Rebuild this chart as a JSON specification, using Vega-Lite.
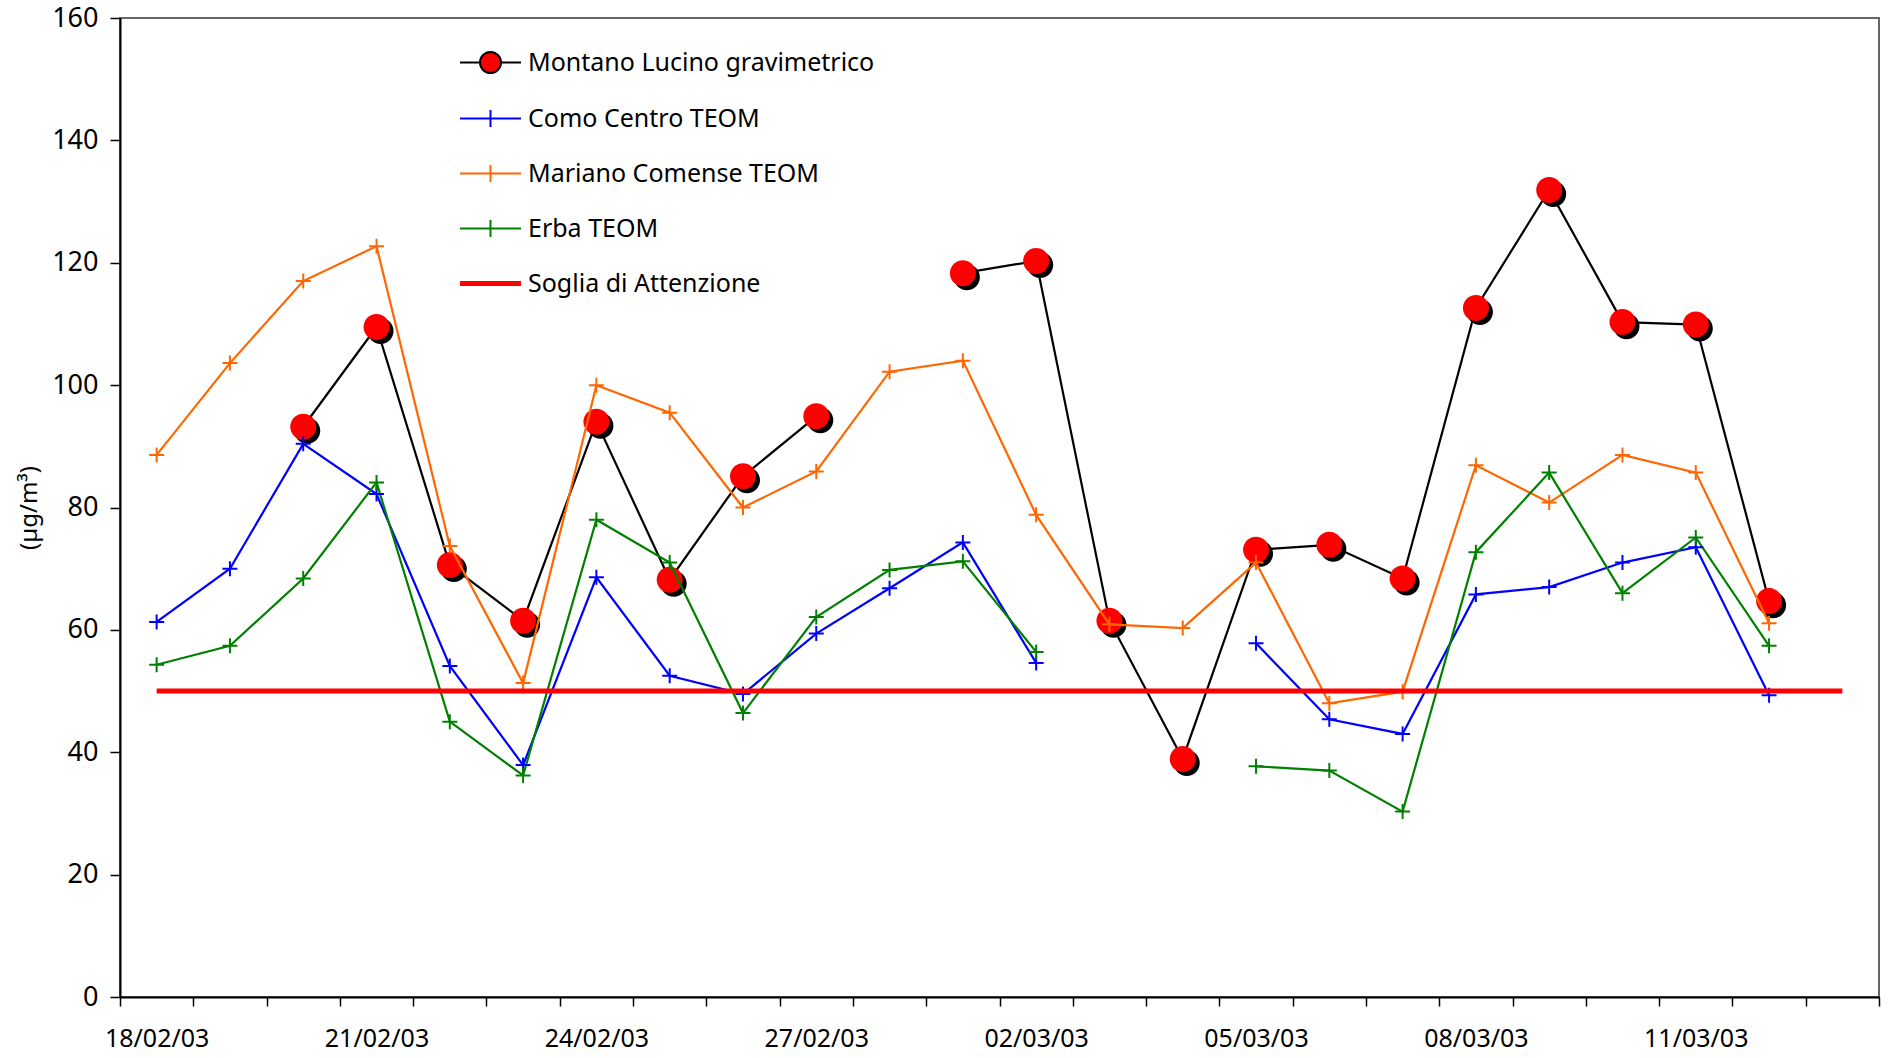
{
  "$schema": "https://vega.github.io/schema/vega-lite/v6.json",
  "width": 1759,
  "height": 979,
  "autosize": {"type": "none"},
  "padding": {"left": 120, "top": 18, "right": 10, "bottom": 61},
  "background": "white",
  "config": {
    "view": {"stroke": "#666666", "strokeWidth": 2},
    "font": "Noto Sans"
  },
  "data": {
    "values": [
      {"date": "18/02/03", "Montano Lucino gravimetrico": null, "Como Centro TEOM": 61.3, "Mariano Comense TEOM": 88.6, "Erba TEOM": 54.3, "Soglia di Attenzione": 50},
      {"date": "19/02/03", "Montano Lucino gravimetrico": null, "Como Centro TEOM": 70.0, "Mariano Comense TEOM": 103.6, "Erba TEOM": 57.4, "Soglia di Attenzione": 50},
      {"date": "20/02/03", "Montano Lucino gravimetrico": 93.2, "Como Centro TEOM": 90.4, "Mariano Comense TEOM": 117.0, "Erba TEOM": 68.4, "Soglia di Attenzione": 50},
      {"date": "21/02/03", "Montano Lucino gravimetrico": 109.5, "Como Centro TEOM": 82.2, "Mariano Comense TEOM": 122.7, "Erba TEOM": 84.1, "Soglia di Attenzione": 50},
      {"date": "22/02/03", "Montano Lucino gravimetrico": 70.6, "Como Centro TEOM": 54.1, "Mariano Comense TEOM": 73.7, "Erba TEOM": 45.0, "Soglia di Attenzione": 50},
      {"date": "23/02/03", "Montano Lucino gravimetrico": 61.5, "Como Centro TEOM": 37.9, "Mariano Comense TEOM": 51.3, "Erba TEOM": 36.2, "Soglia di Attenzione": 50},
      {"date": "24/02/03", "Montano Lucino gravimetrico": 94.0, "Como Centro TEOM": 68.6, "Mariano Comense TEOM": 100.0, "Erba TEOM": 78.0, "Soglia di Attenzione": 50},
      {"date": "25/02/03", "Montano Lucino gravimetrico": 68.2, "Como Centro TEOM": 52.5, "Mariano Comense TEOM": 95.5, "Erba TEOM": 71.0, "Soglia di Attenzione": 50},
      {"date": "26/02/03", "Montano Lucino gravimetrico": 85.1, "Como Centro TEOM": 49.5, "Mariano Comense TEOM": 80.0, "Erba TEOM": 46.4, "Soglia di Attenzione": 50},
      {"date": "27/02/03", "Montano Lucino gravimetrico": 94.9, "Como Centro TEOM": 59.4, "Mariano Comense TEOM": 85.9, "Erba TEOM": 62.1, "Soglia di Attenzione": 50},
      {"date": "28/02/03", "Montano Lucino gravimetrico": null, "Como Centro TEOM": 66.8, "Mariano Comense TEOM": 102.2, "Erba TEOM": 69.8, "Soglia di Attenzione": 50},
      {"date": "01/03/03", "Montano Lucino gravimetrico": 118.3, "Como Centro TEOM": 74.3, "Mariano Comense TEOM": 104.0, "Erba TEOM": 71.2, "Soglia di Attenzione": 50},
      {"date": "02/03/03", "Montano Lucino gravimetrico": 120.3, "Como Centro TEOM": 54.6, "Mariano Comense TEOM": 78.8, "Erba TEOM": 56.4, "Soglia di Attenzione": 50},
      {"date": "03/03/03", "Montano Lucino gravimetrico": 61.5, "Como Centro TEOM": null, "Mariano Comense TEOM": 60.9, "Erba TEOM": null, "Soglia di Attenzione": 50},
      {"date": "04/03/03", "Montano Lucino gravimetrico": 38.9, "Como Centro TEOM": null, "Mariano Comense TEOM": 60.3, "Erba TEOM": null, "Soglia di Attenzione": 50},
      {"date": "05/03/03", "Montano Lucino gravimetrico": 73.1, "Como Centro TEOM": 57.8, "Mariano Comense TEOM": 71.0, "Erba TEOM": 37.7, "Soglia di Attenzione": 50},
      {"date": "06/03/03", "Montano Lucino gravimetrico": 73.9, "Como Centro TEOM": 45.4, "Mariano Comense TEOM": 48.0, "Erba TEOM": 37.0, "Soglia di Attenzione": 50},
      {"date": "07/03/03", "Montano Lucino gravimetrico": 68.4, "Como Centro TEOM": 43.0, "Mariano Comense TEOM": 49.9, "Erba TEOM": 30.3, "Soglia di Attenzione": 50},
      {"date": "08/03/03", "Montano Lucino gravimetrico": 112.6, "Como Centro TEOM": 65.8, "Mariano Comense TEOM": 86.9, "Erba TEOM": 72.7, "Soglia di Attenzione": 50},
      {"date": "09/03/03", "Montano Lucino gravimetrico": 131.9, "Como Centro TEOM": 67.0, "Mariano Comense TEOM": 80.8, "Erba TEOM": 85.7, "Soglia di Attenzione": 50},
      {"date": "10/03/03", "Montano Lucino gravimetrico": 110.3, "Como Centro TEOM": 71.0, "Mariano Comense TEOM": 88.6, "Erba TEOM": 66.0, "Soglia di Attenzione": 50},
      {"date": "11/03/03", "Montano Lucino gravimetrico": 109.9, "Como Centro TEOM": 73.5, "Mariano Comense TEOM": 85.7, "Erba TEOM": 75.1, "Soglia di Attenzione": 50},
      {"date": "12/03/03", "Montano Lucino gravimetrico": 64.7, "Como Centro TEOM": 49.3, "Mariano Comense TEOM": 61.1, "Erba TEOM": 57.4, "Soglia di Attenzione": 50},
      {"date": "13/03/03", "Montano Lucino gravimetrico": null, "Como Centro TEOM": null, "Mariano Comense TEOM": null, "Erba TEOM": null, "Soglia di Attenzione": 50}
    ]
  },
  "transform": [
    {"fold": ["Montano Lucino gravimetrico", "Como Centro TEOM", "Mariano Comense TEOM", "Erba TEOM", "Soglia di Attenzione"], "as": ["series", "value"]}
  ],
  "encoding": {
    "x": {
      "field": "date", "type": "ordinal", "sort": null, "bandPosition": 0.5,
      "scale": {"type": "band", "paddingInner": 0, "paddingOuter": 0},
      "axis": {
        "title": null, "labelAngle": 0, "tickBand": "extent", "tickSize": 9,
        "tickColor": "#000000", "tickWidth": 1.5, "domainColor": "#000000", "domainWidth": 2,
        "labelFont": "Noto Sans", "labelFontSize": 25, "labelColor": "#000000", "labelPadding": 20,
        "labelOverlap": false, "grid": false,
        "labelExpr": "indexof(['18/02/03','21/02/03','24/02/03','27/02/03','02/03/03','05/03/03','08/03/03','11/03/03'], datum.label) >= 0 ? datum.label : ''"
      }
    },
    "y": {
      "field": "value", "type": "quantitative",
      "scale": {"domain": [0, 160], "nice": false, "zero": true},
      "axis": {
        "title": "(µg/m³)", "titleFont": "Noto Sans", "titleFontSize": 24, "titleFontWeight": "normal",
        "titleColor": "#000000", "titlePadding": 10,
        "values": [0, 20, 40, 60, 80, 100, 120, 140, 160], "grid": false,
        "tickSize": 10, "tickColor": "#000000", "tickWidth": 1.5, "domainColor": "#000000", "domainWidth": 2,
        "labelFont": "Noto Sans", "labelFontSize": 27, "labelColor": "#000000", "labelPadding": 12
      }
    }
  },
  "layer": [
    {
      "transform": [{"filter": "datum.series == 'Montano Lucino gravimetrico'"}],
      "mark": {"type": "line", "strokeWidth": 2.2, "invalid": "break-paths-show-domains"},
      "encoding": {
        "stroke": {
          "field": "series", "type": "nominal",
          "scale": {
            "domain": ["Montano Lucino gravimetrico", "Como Centro TEOM", "Mariano Comense TEOM", "Erba TEOM", "Soglia di Attenzione"],
            "range": ["#000000", "#0000FF", "#FF6600", "#008000", "#FF0000"]
          },
          "legend": {
            "title": null, "orient": "none", "legendX": 358, "legendY": 32,
            "labelFont": "Noto Sans", "labelFontSize": 25, "labelColor": "#000000", "labelLimit": 1000,
            "symbolSize": 2500, "symbolStrokeWidth": 2, "labelOffset": 25, "rowPadding": 29, "padding": 0,
            "encode": {
              "symbols": {
                "update": {
                  "shape": {"signal": "datum.value == 'Montano Lucino gravimetrico' ? 'M -1.22 0 L -0.4 0 M 0.4 0 L 1.22 0 M 0.42 0 A 0.42 0.42 0 1 1 -0.42 0 A 0.42 0.42 0 1 1 0.42 0 Z' : (datum.value == 'Soglia di Attenzione' ? 'M -1.22 0 L 1.22 0' : 'M -1.22 0 L 1.22 0 M 0 -0.34 L 0 0.34')"},
                  "fill": {"signal": "datum.value == 'Montano Lucino gravimetrico' ? '#FF0000' : 'transparent'"},
                  "strokeWidth": {"signal": "datum.value == 'Soglia di Attenzione' ? 5 : 2"},
                  "opacity": {"value": 1}
                }
              }
            }
          }
        }
      }
    },
    {
      "transform": [{"filter": "datum.series == 'Montano Lucino gravimetrico' && datum.value != null"}],
      "mark": {"type": "point", "filled": true, "fill": "#000000", "strokeWidth": 0, "opacity": 1, "size": 676,
               "shape": "M 1.31 0.31 A 1 1 0 1 1 -0.69 0.31 A 1 1 0 1 1 1.31 0.31 Z"}
    },
    {
      "transform": [{"filter": "datum.series == 'Montano Lucino gravimetrico' && datum.value != null"}],
      "mark": {"type": "point", "filled": true, "fill": "#FF0000", "strokeWidth": 0, "opacity": 1, "size": 676,
               "shape": "M 1 0 A 1 1 0 1 1 -1 0 A 1 1 0 1 1 1 0 Z"}
    },
    {
      "transform": [{"filter": "datum.series != 'Montano Lucino gravimetrico' && datum.series != 'Soglia di Attenzione'"}],
      "mark": {"type": "line", "strokeWidth": 2.2, "invalid": "break-paths-show-domains"},
      "encoding": {"stroke": {"field": "series", "type": "nominal"}}
    },
    {
      "transform": [{"filter": "datum.series != 'Montano Lucino gravimetrico' && datum.series != 'Soglia di Attenzione' && datum.value != null"}],
      "mark": {"type": "point", "filled": false, "fill": null, "strokeWidth": 2, "opacity": 1, "size": 225,
               "shape": "M -1 0 L 1 0 M 0 -1 L 0 1"},
      "encoding": {"stroke": {"field": "series", "type": "nominal"}}
    },
    {
      "transform": [{"filter": "datum.series == 'Soglia di Attenzione'"}],
      "mark": {"type": "line", "strokeWidth": 5},
      "encoding": {"stroke": {"field": "series", "type": "nominal"}}
    }
  ]
}
